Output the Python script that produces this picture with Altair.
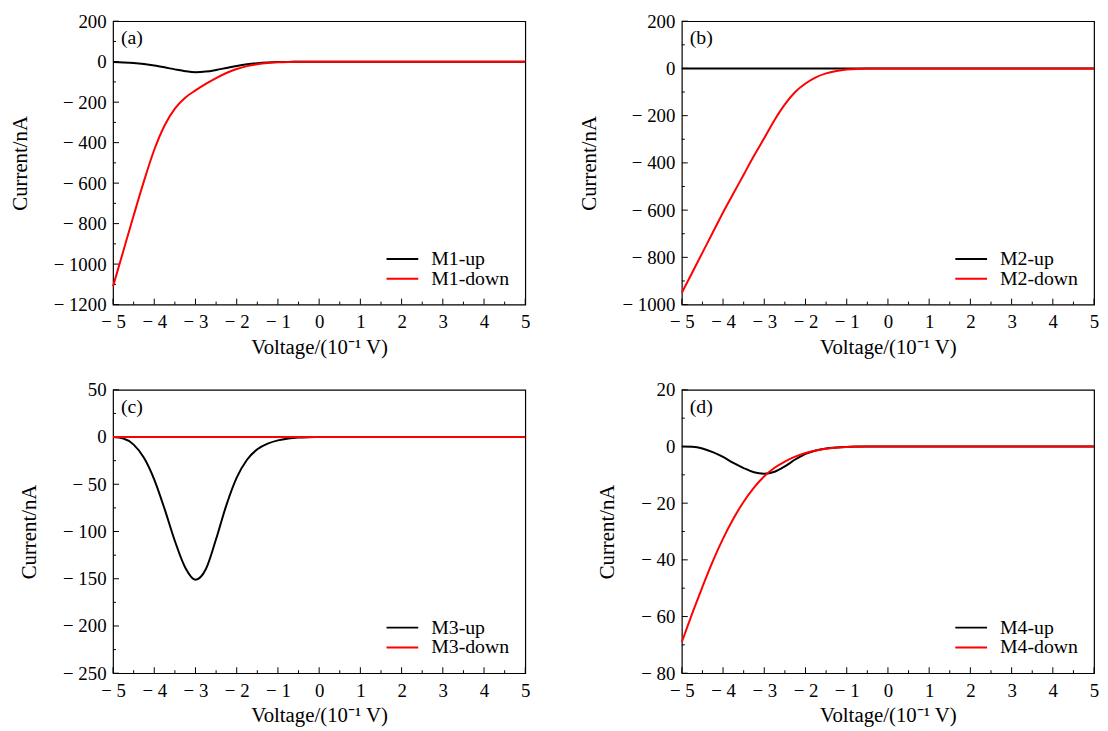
import altair as alt
import pandas as pd

# ---------------- data ----------------
VOLT = [-5.0, -4.75, -4.5, -4.25, -4.0, -3.75, -3.5, -3.25, -3.0, -2.75, -2.5,
        -2.25, -2.0, -1.75, -1.5, -1.25, -1.0, -0.75, -0.5, -0.25, 0.0,
        1.0, 2.0, 3.0, 4.0, 5.0]

M1_UP = [-2, -4, -7, -12, -19, -28, -38, -47, -52, -49, -41, -31, -21, -13, -7.5,
         -4, -2, -1, -0.4, -0.1, 0, 0, 0, 0, 0, 0]
M1_DOWN = [-1110, -935, -760, -590, -435, -315, -232, -178, -142, -110, -81, -56,
           -36, -22, -12.5, -6.5, -3, -1.3, -0.5, -0.1, 0, 0, 0, 0, 0, 0]

M2_UP = [0, 0, 0, 0, 0, 0, 0, 0, 0, 0, 0, 0, 0, 0, 0, 0, 0, 0, 0, 0, 0,
         0, 0, 0, 0, 0]
M2_DOWN = [-950, -865, -780, -695, -610, -530, -450, -370, -295, -218, -152, -100,
           -64, -38, -21, -11, -5, -2, -0.5, -0.1, 0, 0, 0, 0, 0, 0]

M3_UP = [0, -1.5, -8, -22, -45, -76, -110, -138, -151, -140, -108, -72, -43, -24,
         -13, -7, -3.5, -1.5, -0.5, -0.1, 0, 0, 0, 0, 0, 0]
M3_DOWN = [0, 0, 0, 0, 0, 0, 0, 0, 0, 0, 0, 0, 0, 0, 0, 0, 0, 0, 0, 0, 0,
           0, 0, 0, 0, 0]

M4_UP = [0, -0.1, -0.7, -2, -3.7, -5.8, -7.6, -9.1, -9.6, -8.9, -7.0, -4.6, -2.6,
         -1.4, -0.7, -0.35, -0.15, 0, 0, 0, 0, 0, 0, 0, 0, 0]
M4_DOWN = [-69, -59, -49.5, -40.5, -32.5, -25.5, -19.5, -14.5, -10.5, -7.5, -5.3,
           -3.6, -2.3, -1.4, -0.8, -0.45, -0.2, -0.1, 0, 0, 0, 0, 0, 0, 0, 0]

X_MAJOR = [-5, -4, -3, -2, -1, 0, 1, 2, 3, 4, 5]
X_MINOR = [-4.5, -3.5, -2.5, -1.5, -0.5, 0.5, 1.5, 2.5, 3.5, 4.5]

PANEL_TAGS = ["(a)", "(b)", "(c)", "(d)"]
PANEL_NAMES = ["M1", "M2", "M3", "M4"]
PANEL_UP = [M1_UP, M2_UP, M3_UP, M4_UP]
PANEL_DOWN = [M1_DOWN, M2_DOWN, M3_DOWN, M4_DOWN]
Y_DOMAINS = [[-1200, 200], [-1000, 200], [-250, 50], [-80, 20]]
Y_MAJOR = [
    [-1200, -1000, -800, -600, -400, -200, 0, 200],
    [-1000, -800, -600, -400, -200, 0, 200],
    [-250, -200, -150, -100, -50, 0, 50],
    [-80, -60, -40, -20, 0, 20],
]
Y_MINOR = [
    [-1100, -900, -700, -500, -300, -100, 100],
    [-900, -700, -500, -300, -100, 100],
    [-225, -175, -125, -75, -25, 25],
    [-70, -50, -30, -10, 10],
]

X_TITLE = "Voltage/(10\u207b\u00b9 V)"
Y_TITLE = "Current/nA"

# ---------------- style ----------------
FONT = "Liberation Serif"
FS = 19
TFS = 21
W, H = 416, 286
MINUS_EXPR = ("datum.value < 0 ? '\u2212 ' + format(-datum.value, 'd') "
              ": format(datum.value, 'd')")


def make_panel(i):
    name = PANEL_NAMES[i]
    up_name, down_name = name + "-up", name + "-down"
    n = len(VOLT)
    df = pd.DataFrame({
        "V": VOLT + VOLT,
        "I": PANEL_UP[i] + PANEL_DOWN[i],
        "series": [up_name] * n + [down_name] * n,
    })
    xs = alt.Scale(domain=[-5, 5], nice=False, zero=False)
    ys = alt.Scale(domain=Y_DOMAINS[i], nice=False, zero=False)
    xaxis = alt.Axis(values=X_MAJOR, title=X_TITLE, labelExpr=MINUS_EXPR)
    yaxis = alt.Axis(values=Y_MAJOR[i], title=Y_TITLE, labelExpr=MINUS_EXPR)
    color = alt.Color(
        "series:N",
        scale=alt.Scale(domain=[up_name, down_name], range=["#000000", "#ff0000"]),
        legend=alt.Legend(title=None),
    )
    base = alt.Chart(df)
    enc = dict(x=alt.X("V:Q", scale=xs, axis=xaxis),
               y=alt.Y("I:Q", scale=ys, axis=yaxis),
               color=color)
    up = base.transform_filter(alt.datum.series == up_name).mark_line(
        strokeWidth=2, interpolate="monotone").encode(**enc)
    down = base.transform_filter(alt.datum.series == down_name).mark_line(
        strokeWidth=2, interpolate="monotone").encode(**enc)

    xt_major = alt.Chart(pd.DataFrame({"V": X_MAJOR})).mark_rule(
        color="black", strokeWidth=1).encode(
        x=alt.X("V:Q", scale=xs, axis=xaxis), y=alt.value(H), y2=alt.value(H - 6))
    xt_minor = alt.Chart(pd.DataFrame({"V": X_MINOR})).mark_rule(
        color="black", strokeWidth=1).encode(
        x=alt.X("V:Q", scale=xs, axis=xaxis), y=alt.value(H), y2=alt.value(H - 3))
    yt_major = alt.Chart(pd.DataFrame({"I": Y_MAJOR[i]})).mark_rule(
        color="black", strokeWidth=1).encode(
        y=alt.Y("I:Q", scale=ys, axis=yaxis), x=alt.value(0), x2=alt.value(6))
    yt_minor = alt.Chart(pd.DataFrame({"I": Y_MINOR[i]})).mark_rule(
        color="black", strokeWidth=1).encode(
        y=alt.Y("I:Q", scale=ys, axis=yaxis), x=alt.value(0), x2=alt.value(3))

    tag = alt.Chart(pd.DataFrame({"tag": [PANEL_TAGS[i]]})).mark_text(
        align="left", baseline="middle", font=FONT, fontSize=20, color="black"
    ).encode(x=alt.value(8), y=alt.value(17), text="tag:N")

    return alt.layer(yt_major, yt_minor, xt_major, xt_minor, up, down, tag).properties(
        width=W, height=H)


chart = alt.concat(
    *[make_panel(i) for i in range(4)],
    columns=2,
    spacing={"row": 22, "column": 46},
).resolve_scale(color="independent").configure_view(
    stroke="black", strokeWidth=1.2
).configure_axis(
    labelFont=FONT, labelFontSize=FS, titleFont=FONT, titleFontSize=TFS,
    titleFontWeight="normal", labelColor="black", titleColor="black",
    grid=False, domain=False, ticks=False, tickSize=0, labelOverlap=False,
    labelFlush=False,
).configure_axisX(labelPadding=8, titlePadding=5).configure_axisY(
    labelPadding=7, titlePadding=23, labelLineHeight=12
).configure_legend(
    orient="bottom-right", offset=16, symbolType="M-3.2,0H3.2", symbolSize=100,
    symbolStrokeWidth=2, labelFont=FONT, labelFontSize=20, labelColor="black",
    labelOffset=19, rowPadding=0, padding=0,
).properties(padding=0, background="white")

chart.save("out.html", embed_options={"renderer": "svg", "actions": False})
